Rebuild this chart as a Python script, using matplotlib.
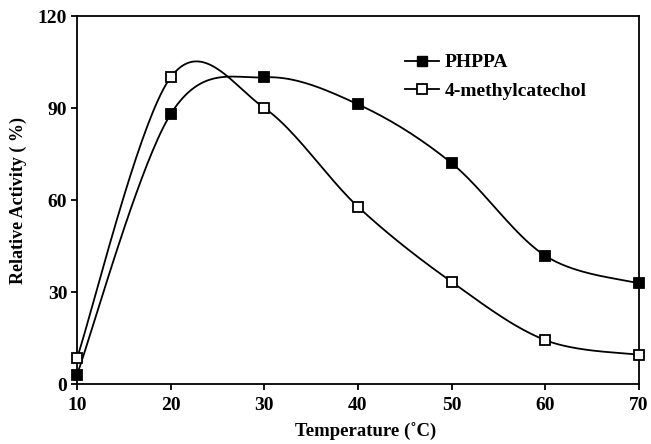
import numpy as np
import matplotlib
matplotlib.use("Agg")
import matplotlib.pyplot as plt
from matplotlib.lines import Line2D

temperature = [10, 20, 30, 40, 50, 60, 70]
phppa = [3, 88, 100, 91.2, 72, 41.8, 32.8]
methylcatechol = [8.4, 100, 90, 57.8, 33.3, 14.3, 9.5]
x_ticks = [10, 20, 30, 40, 50, 60, 70]
y_ticks = [0, 30, 60, 90, 120]


def smooth(xs, ys, n=40):
    """Excel-style smoothed line: cubic Bezier with Catmull-Rom control points."""
    P = np.column_stack([xs, ys]).astype(float)
    out = []
    m = len(P)
    for i in range(m - 1):
        p0 = P[i - 1] if i > 0 else P[i]
        p1 = P[i]
        p2 = P[i + 1]
        p3 = P[i + 2] if i + 2 < m else P[i + 1]
        c1 = p1 + (p2 - p0) / 6.0
        c2 = p2 - (p3 - p1) / 6.0
        t = np.linspace(0, 1, n)[:, None]
        seg = ((1 - t) ** 3) * p1 + 3 * ((1 - t) ** 2) * t * c1 + 3 * (1 - t) * t ** 2 * c2 + t ** 3 * p2
        out.append(seg if i == 0 else seg[1:])
    s = np.vstack(out)
    return s[:, 0], s[:, 1]


plt.rcParams['font.family'] = ['Liberation Serif', 'DejaVu Serif']
plt.rcParams['font.weight'] = 'bold'

fig = plt.figure(figsize=(6.51, 4.44), dpi=100)
ax = fig.add_axes([77 / 651, 60 / 444, 562 / 651, 368 / 444])

for ys, face in [(phppa, 'black'), (methylcatechol, 'white')]:
    sx, sy = smooth(temperature, ys)
    ax.plot(sx, sy, color='black', lw=1.3, clip_on=False, zorder=2)
    ax.plot(temperature, ys, linestyle='none', marker='s', markersize=7.5,
            markerfacecolor=face, markeredgecolor='black', markeredgewidth=1.3,
            clip_on=False, zorder=3)

ax.set_xlim(10, 70)
ax.set_ylim(0, 120)
ax.set_xticks(x_ticks)
ax.set_yticks(y_ticks)
ax.tick_params(axis='both', direction='out', length=4, width=1.3, labelsize=14)
ax.tick_params(axis='x', pad=5)
ax.tick_params(axis='y', pad=3)
for lab in ax.get_xticklabels() + ax.get_yticklabels():
    lab.set_fontweight('bold')
for sp in ax.spines.values():
    sp.set_linewidth(1.3)

ax.set_xlabel('Temperature (˚C)', fontsize=13.5, fontweight='bold')
ax.xaxis.set_label_coords(0.514, -0.106)
ax.set_ylabel('Relative Activity ( %)', fontsize=13, fontweight='bold', labelpad=8)

handles = [
    Line2D([], [], color='black', lw=1.3, marker='s', markersize=7.5,
           markerfacecolor='black', markeredgecolor='black'),
    Line2D([], [], color='black', lw=1.3, marker='s', markersize=7.5,
           markerfacecolor='white', markeredgecolor='black', markeredgewidth=1.3),
]
leg = ax.legend(handles, ['PHPPA', '4-methylcatechol'], loc='upper left',
                bbox_to_anchor=(0.552, 0.945), frameon=False,
                handlelength=1.75, handletextpad=0.3, labelspacing=0.55,
                prop={'weight': 'bold', 'size': 14})

fig.savefig('out.png', dpi=100)
